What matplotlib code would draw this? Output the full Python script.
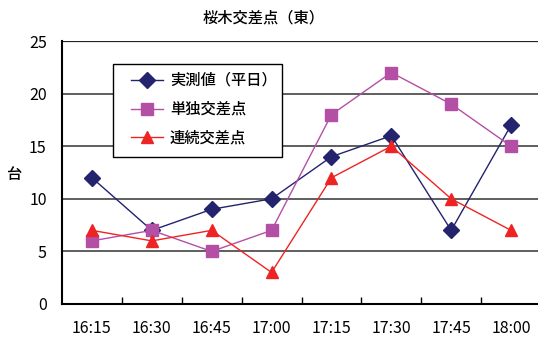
import matplotlib
matplotlib.use("Agg")
import matplotlib.pyplot as plt
from matplotlib.lines import Line2D
from matplotlib.patches import Rectangle

plt.rcParams['font.family'] = ['Noto Sans CJK JP', 'DejaVu Sans']

categories = ["16:15", "16:30", "16:45", "17:00", "17:15", "17:30", "17:45", "18:00"]
jissoku = [12, 7, 9, 10, 14, 16, 7, 17]
tandoku = [6, 7, 5, 7, 18, 22, 19, 15]
renzoku = [7, 6, 7, 3, 12, 15, 10, 7]
series_names = ["実測値（平日）", "単独交差点", "連続交差点"]
y_ticks = [0, 5, 10, 15, 20, 25]

c_navy = "#23236E"
c_mag = "#B44FA6"
c_red = "#EE2424"

W, H = 538, 341
fig = plt.figure(figsize=(W/100, H/100), dpi=100)
ax = fig.add_axes([62/W, 1-304/H, (541-62)/W, (304-41)/H])
x = list(range(len(categories)))

ax.plot(x, jissoku, color=c_navy, lw=1, marker='D', ms=8, mfc=c_navy, mec=c_navy, zorder=3)
ax.plot(x, tandoku, color=c_mag, lw=1, marker='s', ms=8, mfc=c_mag, mec=c_mag, zorder=3)
ax.plot(x, renzoku, color=c_red, lw=1, marker='^', ms=9, mfc=c_red, mec=c_red, zorder=3)

ax.set_xlim(-0.5, len(categories)-0.5)
ax.set_ylim(0, 25)
ax.set_yticks(y_ticks)
ax.set_yticklabels([str(v) for v in y_ticks], fontsize=11.5)
ax.tick_params(axis='y', length=0, pad=11)
for v in y_ticks[1:]:
    ax.axhline(v, color="#333333" if v < 25 else "#222222", lw=1.1 if v < 25 else 1.6, zorder=1)

ax.set_xticks([i + 0.5 for i in range(len(categories)-1)])
ax.set_xticklabels([])
ax.tick_params(axis='x', direction='in', length=5, width=1, color='black')
for i, lab in enumerate(categories):
    ax.text(i, -0.092, lab, transform=ax.get_xaxis_transform(), ha='center', va='center', fontsize=11.5)

for s in ['top', 'right']:
    ax.spines[s].set_visible(False)
ax.spines['left'].set_linewidth(1.5)
ax.spines['bottom'].set_linewidth(1.5)

fig.text(14/W, 1-175/H, "台", ha='center', va='center', fontsize=11, fontweight='medium')
fig.text(264/W, 1-18/H, "桜木交差点（東）", ha='center', va='center', fontsize=11, fontweight='medium')

# legend frame
fig.add_artist(Rectangle((113/W, 1-157/H), (282-113)/W, (157-64)/H, transform=fig.transFigure,
                         facecolor='white', edgecolor='black', lw=1, zorder=4))
handles = [
    Line2D([], [], color=c_navy, lw=1, marker='D', ms=8, mfc=c_navy, mec=c_navy),
    Line2D([], [], color=c_mag, lw=1, marker='s', ms=8, mfc=c_mag, mec=c_mag),
    Line2D([], [], color=c_red, lw=1, marker='^', ms=9, mfc=c_red, mec=c_red),
]
leg = fig.legend(handles, series_names, loc='upper left', bbox_to_anchor=(131/W, 1-72/H),
                 frameon=False, prop={'size': 11, 'weight': 'medium'}, handlelength=2.1,
                 borderpad=0, borderaxespad=0, labelspacing=0.78, handletextpad=0.45)
leg.set_zorder(5)

fig.savefig("out.png", dpi=100)
